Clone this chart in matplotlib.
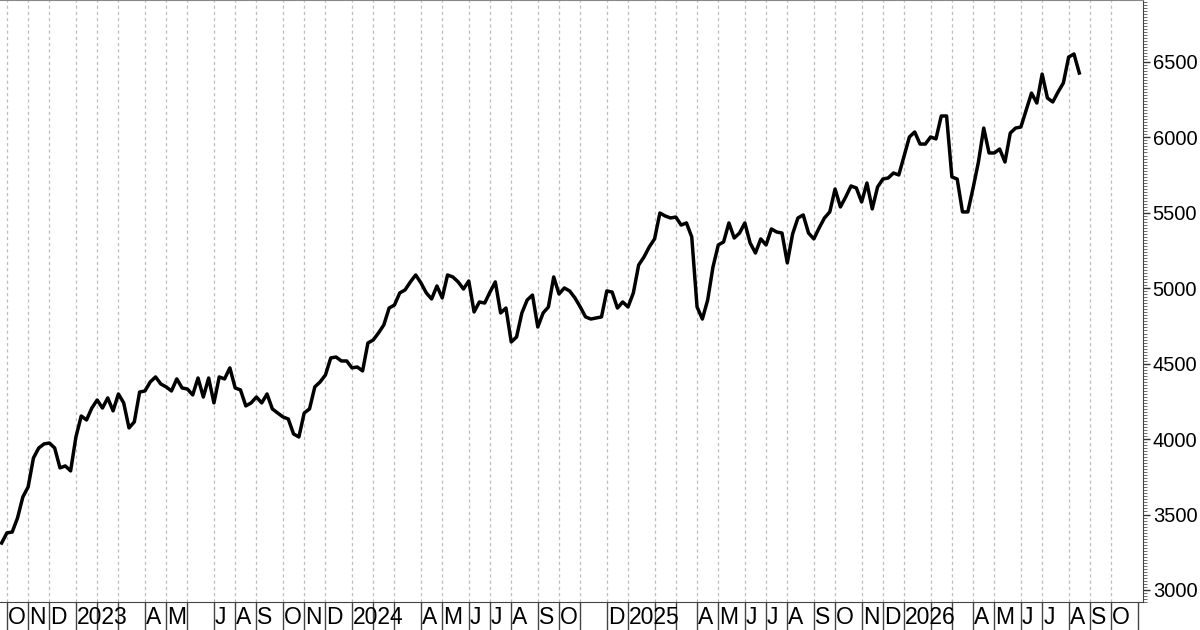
import matplotlib
matplotlib.use("Agg")
import matplotlib.pyplot as plt
from matplotlib.ticker import MultipleLocator
import pandas as pd

plt.rcParams['font.family'] = ['Liberation Sans', 'DejaVu Sans']

# weekly closes, first week = 30 Sep 2022
closes = [
    3311, 3378, 3384, 3477, 3616, 3683, 3875, 3941, 3968, 3974,
    3941, 3809, 3822, 3789, 4014, 4153, 4127, 4206, 4259, 4206,
    4273, 4187, 4299, 4240, 4074, 4114, 4312, 4319, 4379, 4412,
    4365, 4346, 4319, 4399, 4339, 4332, 4293, 4405, 4279, 4405,
    4240, 4412, 4399, 4472, 4339, 4326, 4220, 4240, 4279, 4240,
    4299, 4200, 4173, 4147, 4133, 4034, 4014, 4173, 4200, 4346,
    4379, 4425, 4538, 4544, 4518, 4518, 4472, 4478, 4452, 4637,
    4657, 4704, 4757, 4869, 4889, 4969, 4989, 5042, 5088, 5035,
    4969, 4929, 5015, 4936, 5088, 5075, 5042, 4995, 5048, 4843,
    4909, 4902, 4975, 5042, 4836, 4869, 4644, 4677, 4836, 4922,
    4955, 4743, 4836, 4876, 5075, 4962, 5002, 4982, 4936, 4876,
    4810, 4796, 4803, 4810, 4982, 4975, 4869, 4909, 4876, 4969,
    5154, 5207, 5274, 5327, 5499, 5479, 5466, 5472, 5419, 5433,
    5340, 4876, 4796, 4922, 5141, 5287, 5307, 5433, 5333, 5366,
    5433, 5300, 5234, 5327, 5287, 5393, 5373, 5366, 5168, 5360,
    5466, 5486, 5366, 5327, 5400, 5466, 5506, 5658, 5539, 5605,
    5678, 5665, 5572, 5698, 5526, 5671, 5724, 5731, 5764, 5751,
    5877, 6003, 6036, 5956, 5956, 6003, 5990, 6142, 6142, 5738,
    5724, 5506, 5506, 5665, 5837, 6062, 5897, 5897, 5923, 5837,
    6029, 6062, 6069, 6182, 6294, 6228, 6420, 6261, 6235, 6301,
    6361, 6533, 6553, 6427,
]

# month boxes from Oct 2022 to Oct 2026
month_labels = [
    "O", "N", "D",
    "2023", "", "", "A", "M", "", "J", "A", "S", "O", "N", "D",
    "2024", "", "", "A", "M", "J", "J", "A", "S", "O", "", "D",
    "2025", "", "", "A", "M", "J", "J", "A", "S", "O", "N", "D",
    "2026", "", "", "A", "M", "J", "J", "A", "S", "O",
]
y_ticks = [3000, 3500, 4000, 4500, 5000, 5500, 6000, 6500]

# trading calendar (weekly bars), extended past the data to end of Oct 2026
weeks = pd.date_range("2022-09-30", periods=216, freq="W-FRI")
period = weeks.to_period("M")
bounds = [i for i in range(1, len(weeks)) if period[i] != period[i - 1]]

fig = plt.figure(figsize=(12, 6.3), dpi=100)
ax = fig.add_axes([0, 28 / 630, 1143 / 1200, 602 / 630])

for b in bounds[:-1]:
    ax.axvline(b, color="#bdbdbd", lw=0.9, ls=(0, (2.5, 2.5)), zorder=0)

ax.plot(range(len(closes)), closes, color="black", lw=2.5, zorder=3,
        solid_joinstyle="round")

ax.set_xlim(-0.3, 215)
ax.set_ylim(2920, 6911)

# month separators below the plot
ax.set_xticks(bounds)
ax.set_xticklabels([])
ax.tick_params(axis="x", direction="out", length=22, width=1, color="#444444")
for b, lab in zip(bounds, month_labels):
    ax.annotate(lab, xy=(b, 0), xycoords=("data", "axes fraction"),
                xytext=(1, -16), textcoords="offset pixels",
                ha="left", va="center", fontsize=16.5, color="black")

ax.yaxis.tick_right()
ax.set_yticks(y_ticks)
ax.yaxis.set_minor_locator(MultipleLocator(20))
ax.tick_params(axis="y", which="major", direction="out", length=5, width=1,
               color="#333333", labelsize=14.5, pad=2)
ax.tick_params(axis="y", which="minor", direction="out", length=3, width=0.6,
               color="#555555")

ax.spines["left"].set_visible(False)
ax.spines["top"].set_color("#888888")
ax.spines["right"].set_color("#444444")
ax.spines["bottom"].set_color("#444444")

fig.savefig("out.png", dpi=100)
